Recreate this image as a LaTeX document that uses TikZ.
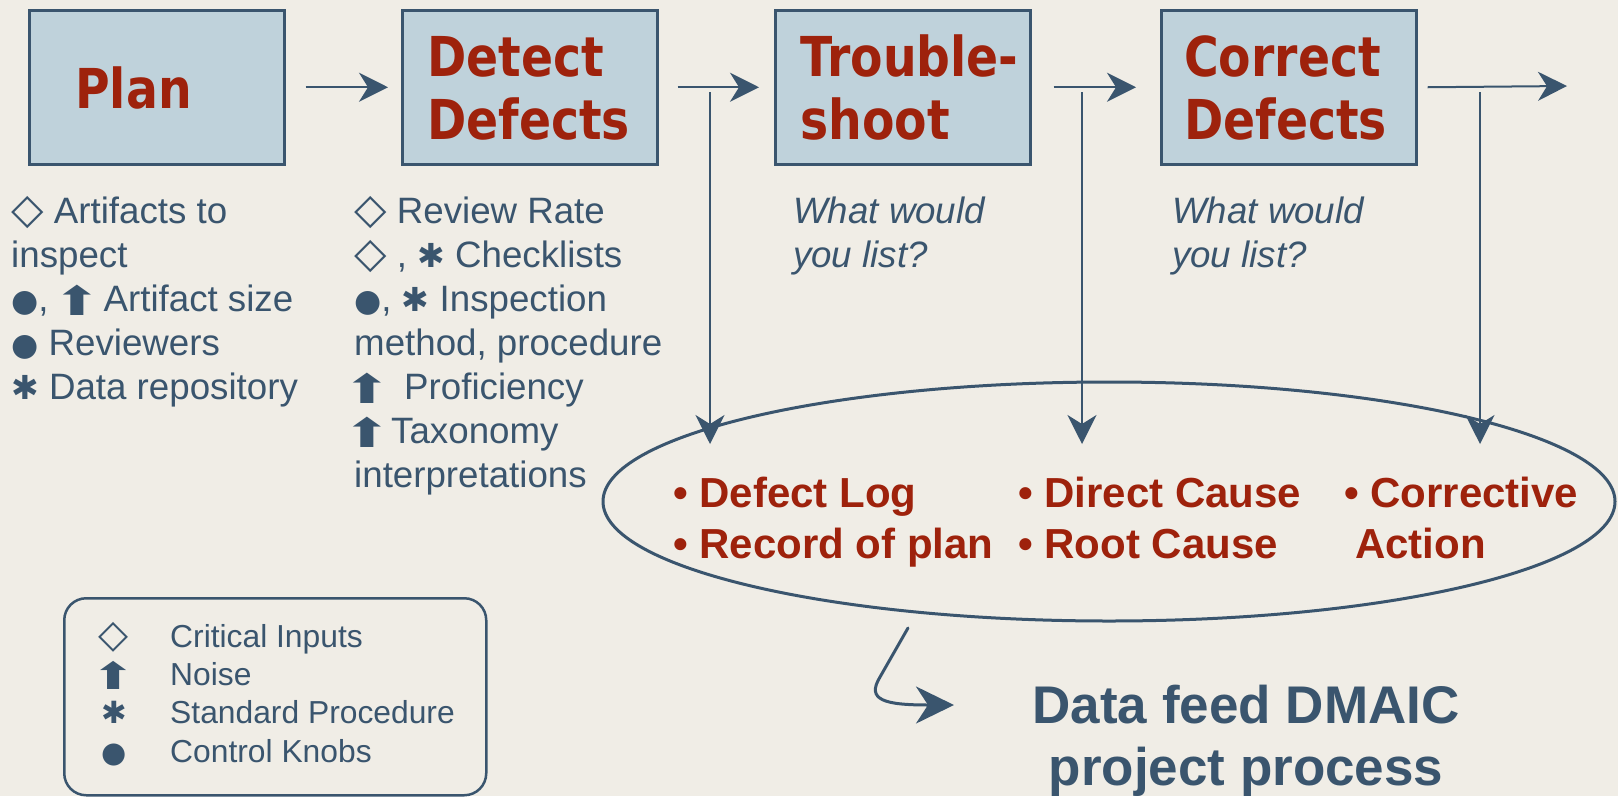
\documentclass[tikz,border=0pt]{standalone}
\usepackage{fontspec}
\setmainfont{Liberation Sans}
\newfontfamily\boxfont[FakeStretch=0.86]{DejaVu Sans}
\newfontfamily\symf{DejaVu Sans}
\usetikzlibrary{arrows.meta,shapes.geometric}

\definecolor{paper}{RGB}{240,237,230}
\definecolor{boxfill}{RGB}{191,210,219}
\definecolor{slate}{RGB}{58,85,110}
\definecolor{brick}{RGB}{158,34,12}

% legend symbols, set in DejaVu Sans
\newcommand\symdia{{\symf\scalebox{1.15}{◇}}}
\newcommand\symdot{{\symf\scalebox{0.85}{●}}}
\newcommand\symast{{\symf\scalebox{0.9}{✱}}}
\newcommand\symnoise{\makebox[26pt][c]{\raisebox{-4pt}{\symf\scalebox{1.55}[1.1]{⬆}}}}

\begin{document}
\begin{tikzpicture}[x=1pt,y=-1pt,
  stepbox/.style={draw=slate, line width=2.5pt, fill=boxfill, minimum width=255pt,
    minimum height=154pt, inner sep=0pt, anchor=north west},
  boxtext/.style={font=\boxfont\bfseries\fontsize{55}{63}\selectfont, text=brick,
    anchor=base west, inner sep=0pt},
  body/.style={font=\fontsize{36.7}{44}\selectfont, text=slate, anchor=base west, inner sep=0pt},
  query/.style={body, font=\itshape\fontsize{36.7}{44}\selectfont},
  result/.style={font=\bfseries\fontsize{42}{51}\selectfont, text=brick, anchor=base west, inner sep=0pt},
  keytext/.style={font=\fontsize{31.8}{38}\selectfont, text=slate, anchor=base west, inner sep=0pt},
  keysym/.style={font=\fontsize{34}{38}\selectfont, text=slate, anchor=base, inner sep=0pt},
  flow/.style={draw=slate, line width=2pt, -{Stealth[length=29pt,width=29pt,inset=9pt]}},
  feed/.style={draw=slate, line width=3pt, line cap=round, -{Stealth[length=38pt,width=37pt,inset=12pt]}}]

% page
\fill[paper] (0,0) rectangle (1618,796);
\useasboundingbox (0,0) rectangle (1618,796);

% process steps
\node[stepbox] (plan) at (28,9) {};
\node[stepbox] (detect) at (401,9) {};
\node[stepbox] (trouble) at (774,9) {};
\node[stepbox] (correct) at (1160,9) {};

\node[boxtext] (plan-t) at (75,108) {Plan};
\node[boxtext] (detect-t1) at (427,76) {Detect};
\node[boxtext] (detect-t2) at (427,139) {Defects};
\node[boxtext] (trouble-t1) at (800,76) {Trouble-};
\node[boxtext] (trouble-t2) at (800,139) {shoot};
\node[boxtext] (correct-t1) at (1184,76) {Correct};
\node[boxtext] (correct-t2) at (1184,139) {Defects};

% flow between steps
\coordinate (out) at (1567,86);
\draw[flow] ([xshift=20pt]plan.east) -- ([xshift=-13pt]detect.west);
\draw[flow] ([xshift=19pt]detect.east) -- ([xshift=-15pt]trouble.west);
\draw[flow] ([xshift=22pt]trouble.east) -- ([xshift=-24pt]correct.west);
\draw[flow] ([xshift=10pt]correct.east) -- (out);

% inputs of Plan
\node[body] (p1) at (11,223) {\symdia\ Artifacts to};
\node[body] (p2) at (11,267) {inspect};
\node[body] (p3) at (11,311) {\symdot,\hspace{16pt}\symnoise\hspace{13pt}Artifact size};
\node[body] (p4) at (11,355) {\symdot\ Reviewers};
\node[body] (p5) at (11,399) {\symast\ Data repository};

% inputs of Detect Defects
\node[body] (d1) at (354,223) {\symdia\ Review Rate};
\node[body] (d2) at (354,267) {\symdia\ , \symast\ Checklists};
\node[body] (d3) at (354,311) {\symdot, \symast\ Inspection};
\node[body] (d4) at (354,355) {method, procedure};
\node[body] (d5) at (354,399) {\symnoise\hspace{24pt}Proficiency};
\node[body] (d6) at (354,443) {\symnoise\hspace{11pt}Taxonomy};
\node[body] (d7) at (354,487) {interpretations};

% open questions
\node[query] (q1) at (793,223) {What would};
\node[query] (q2) at (793,267) {you list?};
\node[query] (q3) at (1172,223) {What would};
\node[query] (q4) at (1172,267) {you list?};

% recorded data
\node[draw=slate, line width=3pt, ellipse, minimum width=1012pt, minimum height=239pt,
  inner sep=0pt] (results) at (1109,501.5) {};
\node[result] (r1) at (673,507) {• Defect Log};
\node[result] (r2) at (673,558) {• Record of plan};
\node[result] (r3) at (1018,507) {• Direct Cause};
\node[result] (r4) at (1018,558) {• Root Cause};
\node[result] (r5) at (1344,507) {• Corrective};
\node[result] (r6) at (1355,558) {Action};

% drops from the flow into the record
\coordinate (drop1) at (710,92);
\coordinate (hit1) at (710,444);
\coordinate (drop2) at (1082,92);
\coordinate (hit2) at (1082,444);
\coordinate (drop3) at (1480,92);
\coordinate (hit3) at (1480,444);
\draw[flow] (drop1) -- (hit1);
\draw[flow] (drop2) -- (hit2);
\draw[flow] (drop3) -- (hit3);

% data feed
\coordinate (feed-start) at (908,628);
\coordinate (feed-end) at (954,705);
\draw[feed] (feed-start) -- (880,677) .. controls (866,700) and (884,705) .. (feed-end);
\node[anchor=base, font=\bfseries\fontsize{53}{62}\selectfont, text=slate, inner sep=0pt]
  (dmaic1) at (1246,723) {Data feed DMAIC};
\node[anchor=base, font=\bfseries\fontsize{53}{62}\selectfont, text=slate, inner sep=0pt]
  (dmaic2) at (1246,785) {project process};

% legend
\node[draw=slate, line width=2.5pt, rounded corners=22pt, minimum width=422pt,
  minimum height=197pt, anchor=north west, inner sep=0pt] (legend) at (63,597) {};
\node[keysym] (k1s) at (114,647) {\symdia};
\node[keysym] (k2s) at (114,685) {\symnoise};
\node[keysym] (k3s) at (114,723) {\symast};
\node[keysym] (k4s) at (114,762) {\symdot};
\node[keytext] (k1) at (170,647) {Critical Inputs};
\node[keytext] (k2) at (170,685) {Noise};
\node[keytext] (k3) at (170,723) {Standard Procedure};
\node[keytext] (k4) at (170,762) {Control Knobs};
\end{tikzpicture}
\end{document}
